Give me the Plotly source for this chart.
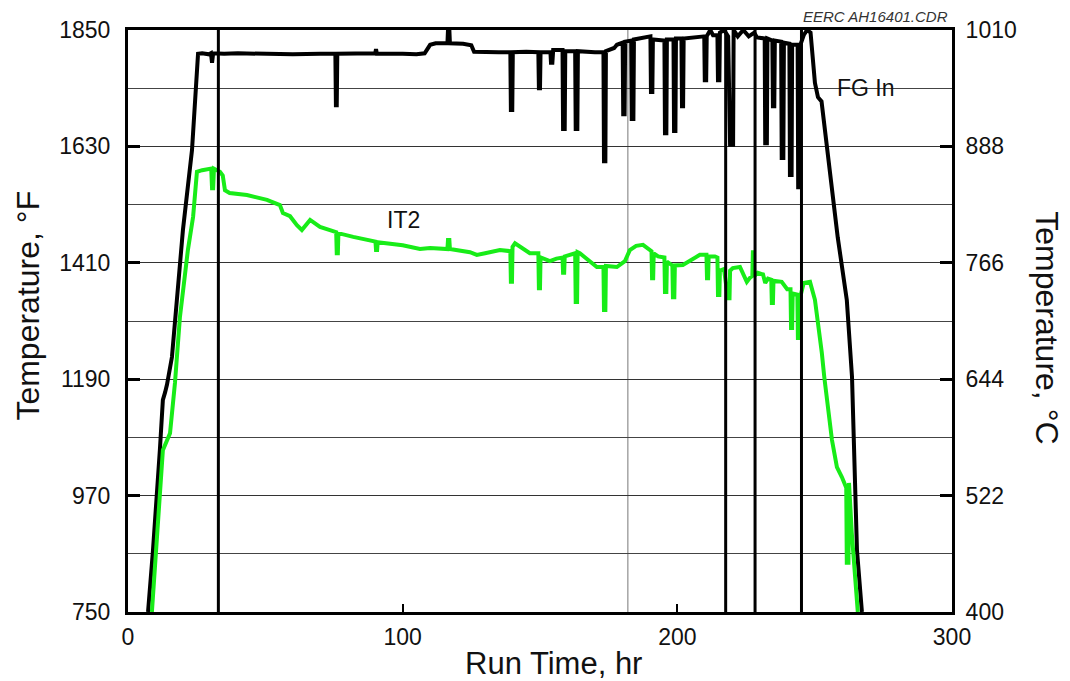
import plotly.graph_objects as go

# Flue gas inlet temperature (FG In), degrees F vs run time, hr
fg_time = [7.3, 9.1, 11.6, 12.7, 13.5, 14.2, 16.0, 18.9, 20.0, 23.3, 25.5,
           27.0, 29.5, 30.2, 30.6, 31.0, 35.0, 40.0, 50.0, 60.0, 70.0, 75.5, 75.7, 76.0, 76.2,
           85.0, 90.0, 90.3, 90.6, 100.0, 105.0, 108.0, 110.0, 112.0, 116.3, 116.5, 117.0, 117.2,
           122.0, 125.0, 126.0, 135.0, 139.2, 139.4, 139.9, 140.1, 145.0, 149.4, 149.6, 150.0, 150.2,
           153.8, 154.0, 154.5, 154.8, 158.2, 158.4, 159.0, 159.2, 162.8, 163.0, 163.6, 163.8,
           170.0, 173.1, 173.3, 173.8, 174.0, 177.0, 178.0, 180.1, 180.3, 180.8, 181.0,
           183.2, 183.4, 184.0, 184.2, 188.0, 190.2, 190.4, 190.9, 191.1, 195.3, 195.5, 196.0, 196.2,
           198.6, 198.8, 199.3, 199.5, 201.5, 201.7, 202.1, 202.3, 206.0, 209.8, 210.0, 210.5, 210.7,
           212.0, 213.0, 214.6, 214.8, 215.3, 215.5, 217.0, 218.5, 219.2, 220.3, 220.5, 222.0,
           224.0, 226.0, 228.0, 229.0, 231.8, 232.0, 232.6, 232.8, 234.6, 234.8, 235.3, 235.5,
           237.8, 238.0, 238.6, 238.8, 240.8, 241.0, 241.6, 241.8, 243.8, 244.0, 244.6, 244.8,
           246.0, 247.2, 248.5, 250.1, 251.2, 252.5, 253.7, 256.6, 258.4, 261.7, 263.6, 264.7,
           265.4, 267.2]
fg_temp = [750, 867, 1056, 1151, 1165, 1180, 1232, 1402, 1472, 1623, 1805,
           1806, 1804, 1806, 1788, 1806, 1805, 1806, 1805, 1804, 1805, 1805, 1708, 1708, 1805,
           1805, 1806, 1814, 1805, 1805, 1804, 1806, 1822, 1825, 1825, 1850, 1850, 1825,
           1824, 1821, 1809, 1808, 1808, 1699, 1699, 1808, 1809, 1808, 1740, 1740, 1808,
           1808, 1788, 1788, 1812, 1812, 1663, 1663, 1810, 1810, 1663, 1663, 1810,
           1808, 1808, 1602, 1602, 1810, 1816, 1822, 1826, 1691, 1691, 1828,
           1830, 1682, 1682, 1832, 1836, 1838, 1733, 1733, 1832, 1830, 1655, 1655, 1832,
           1832, 1659, 1659, 1834, 1834, 1706, 1706, 1834, 1836, 1838, 1755, 1755, 1838,
           1850, 1840, 1840, 1755, 1755, 1845, 1850, 1838, 1633, 1633, 1850, 1838,
           1850, 1838, 1845, 1836, 1834, 1636, 1636, 1834, 1830, 1706, 1706, 1830,
           1828, 1608, 1608, 1826, 1824, 1576, 1576, 1822, 1822, 1553, 1553, 1822,
           1840, 1850, 1845, 1750, 1723, 1715, 1661, 1547, 1458, 1340, 1194, 994,
           867, 750]

# Inner tube temperature (IT2), degrees F vs run time, hr
it2_time = [8.7, 10.5, 12.7, 15.3, 17.1, 18.9, 21.8, 23.7, 25.1, 27.0, 30.3, 30.6, 31.0, 31.3,
            33.5, 34.5, 35.3, 37.0, 43.3, 50.6, 55.3, 56.4, 59.0, 61.5, 63.3, 66.3, 69.9,
            75.8, 76.0, 76.4, 76.6, 82.0, 90.1, 90.3, 90.7, 90.9, 94.3, 100.0, 106.3, 110.0,
            116.3, 116.5, 117.0, 117.2, 124.5, 127.0, 130.0, 135.4, 139.2, 139.4, 139.8, 140.0,
            140.9, 143.0, 146.3, 149.4, 149.6, 150.0, 150.2, 153.6, 156.0, 158.2, 158.4, 158.8,
            159.0, 162.8, 163.0, 163.5, 163.7, 164.5, 168.0, 170.7, 173.1, 173.3, 173.8, 174.0,
            178.0, 180.9, 182.7, 185.0, 187.5, 190.6, 190.8, 191.2, 191.4, 193.0, 195.3, 195.5,
            196.0, 196.2, 198.2, 198.4, 198.9, 199.1, 202.0, 205.0, 208.2, 210.6, 210.8, 211.2,
            211.4, 213.7, 214.6, 214.8, 215.3, 215.5, 217.0, 218.4, 219.0, 219.2, 220.2, 222.8,
            224.0, 225.3, 226.5, 227.3, 227.5, 227.8, 228.0, 229.3, 231.2, 232.0, 233.0, 234.2,
            234.4, 234.8, 235.0, 238.0, 240.0, 241.2, 241.4, 241.8, 242.0, 243.7, 243.9, 244.3,
            244.5, 246.0, 248.3, 250.1, 252.6, 253.5, 256.3, 258.1, 259.9, 261.5, 261.7, 262.3,
            262.5, 263.5, 265.7]
it2_temp = [750, 900, 1056, 1088, 1183, 1307, 1434, 1497, 1582, 1585, 1588, 1551, 1551, 1588,
            1582, 1575, 1547, 1542, 1538, 1529, 1519, 1504, 1498, 1481, 1472, 1491, 1478,
            1468, 1428, 1428, 1466, 1459, 1450, 1434, 1434, 1449, 1447, 1443, 1436, 1438,
            1436, 1453, 1453, 1436, 1430, 1425, 1428, 1434, 1432, 1374, 1374, 1440,
            1447, 1440, 1428, 1428, 1362, 1362, 1420, 1413, 1418, 1420, 1391, 1391,
            1422, 1428, 1336, 1336, 1430, 1428, 1414, 1402, 1402, 1321, 1321, 1404,
            1402, 1413, 1434, 1442, 1444, 1432, 1381, 1381, 1428, 1422, 1420, 1355,
            1355, 1412, 1405, 1345, 1345, 1405, 1406, 1416, 1425, 1425, 1381, 1381,
            1422, 1422, 1420, 1349, 1349, 1395, 1398, 1343, 1343, 1395, 1400, 1402,
            1390, 1374, 1382, 1385, 1430, 1430, 1385, 1391, 1388, 1372, 1380, 1378,
            1334, 1334, 1376, 1374, 1360, 1360, 1287, 1287, 1352, 1350, 1268, 1268,
            1340, 1372, 1374, 1340, 1240, 1194, 1075, 1024, 1005, 985, 843, 843,
            994, 900, 750]

# Event markers along the run, hr
event_times = [32.9, 217.6, 228.3, 245.2]
ref_time = [182.0]

f_ticks = [750, 970, 1190, 1410, 1630, 1850]
f_minor = [860, 1080, 1300, 1520, 1740]
c_ticks = [400, 522, 644, 766, 888, 1010]
x_ticks = [0, 100, 200, 300]

FONT = "Liberation Sans, Arial, Helvetica, sans-serif"
GREEN = "#18ec18"

fig = go.Figure()
fig.add_trace(go.Scatter(x=fg_time, y=fg_temp, mode="lines", name="FG In",
                         line=dict(color="black", width=4), showlegend=False))
fig.add_trace(go.Scatter(x=it2_time, y=it2_temp, mode="lines", name="IT2",
                         line=dict(color=GREEN, width=4), showlegend=False))
# invisible trace to bind the Celsius axis
fig.add_trace(go.Scatter(x=[0], y=[400], yaxis="y2", mode="markers",
                         marker=dict(opacity=0), showlegend=False, hoverinfo="skip"))

for t in event_times:
    fig.add_vline(x=t, line=dict(color="black", width=3), layer="above")
for t in ref_time:
    fig.add_vline(x=t, line=dict(color="#777777", width=1), layer="below")

fig.update_layout(
    width=1070, height=681,
    margin=dict(l=128, r=118, t=30, b=69),
    paper_bgcolor="white", plot_bgcolor="white",
    font=dict(family=FONT, color="#111111", size=23),
    xaxis=dict(range=[0, 300], tickvals=x_ticks, ticks="inside", ticklen=8,
               tickwidth=2, tickcolor="black", showgrid=False, zeroline=False,
               showline=True, linecolor="black", linewidth=3, mirror=True,
               tickfont=dict(size=23, family=FONT), ticklabelstandoff=2),
    yaxis=dict(range=[750, 1850], tickvals=f_ticks, ticks="inside", ticklen=12,
               tickwidth=3, tickcolor="black", showgrid=True, gridcolor="#333333",
               gridwidth=1, zeroline=False, showline=True, linecolor="black",
               linewidth=3, tickfont=dict(size=23, family=FONT), ticklabelstandoff=10,
               minor=dict(tickvals=f_minor, showgrid=True, gridcolor="#444444",
                          gridwidth=1, ticks="")),
    yaxis2=dict(range=[400, 1010], tickvals=c_ticks, overlaying="y", side="right",
                ticks="inside", ticklen=12, tickwidth=3, tickcolor="black",
                showgrid=False, zeroline=False, showline=True, linecolor="black",
                linewidth=3, tickfont=dict(size=23, family=FONT), ticklabelstandoff=6),
    annotations=[
        dict(text="Run Time, hr", xref="paper", yref="paper", x=0.5165, y=-0.088,
             xanchor="center", yanchor="middle", showarrow=False,
             font=dict(size=31, family=FONT)),
        dict(text="Temperature, °F", xref="paper", yref="paper", x=-0.121, y=0.527,
             xanchor="center", yanchor="middle", textangle=-90, showarrow=False,
             font=dict(size=32, family=FONT)),
        dict(text="Temperature, °C", xref="paper", yref="paper", x=1.115, y=0.488,
             xanchor="center", yanchor="middle", textangle=90, showarrow=False,
             font=dict(size=32, family=FONT)),
        dict(text="FG In", x=257.4, y=1740, xanchor="left", yanchor="middle",
             showarrow=False, font=dict(size=23, family=FONT)),
        dict(text="IT2", x=93.6, y=1491, xanchor="left", yanchor="middle",
             showarrow=False, font=dict(size=23, family=FONT)),
        dict(text="<i>EERC AH16401.CDR</i>", xref="paper", yref="paper", x=0.997, y=1.005,
             xanchor="right", yanchor="bottom", showarrow=False,
             font=dict(size=15, family=FONT, color="#333333")),
    ],
)

fig.write_html("out.html")
